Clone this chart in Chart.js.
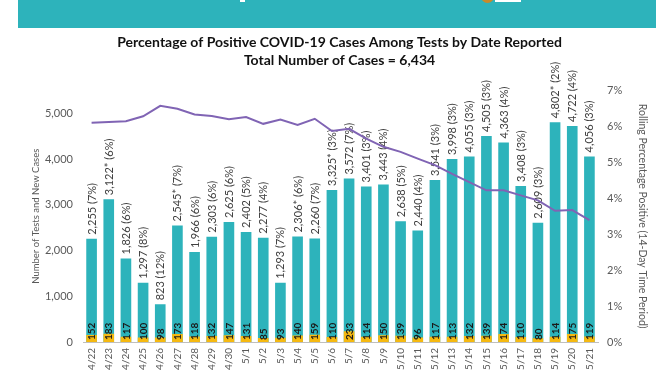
<!DOCTYPE html>
<html>
<head>
<meta charset="utf-8">
<script src="https://cdn.jsdelivr.net/npm/chart.js@4.4.1/dist/chart.umd.min.js"></script>
<style>
    html, body { margin: 0; padding: 0; background: #ffffff; }
    #wrap { position: relative; width: 672px; height: 372px; overflow: hidden; }
    #band { position: absolute; left: 18px; top: 0; width: 638px; height: 28px; background: #2db3bb; }
    #seal { position: absolute; left: 463px; top: -10px; width: 13px; height: 13px; border-radius: 50%; background: #c98a2a; }
    #logo { position: absolute; left: 495px; top: 0; width: 26px; height: 2px; background: #ffffff; }
    #mark { position: absolute; left: 240px; top: 0; width: 5px; height: 2px; background: #ffffff; }
    canvas { position: absolute; left: 0; top: 0; }
</style>
</head>
<body>
<div id="wrap">
    <div id="band"><div id="seal"></div></div>
    <div id="logo"></div>
    <div id="mark"></div>
    <canvas id="positiveChart" width="672" height="372"></canvas>
</div>
<script>
// dates reported
const dates = ['4/22', '4/23', '4/24', '4/25', '4/26', '4/27', '4/28', '4/29', '4/30', '5/1',
    '5/2', '5/3', '5/4', '5/5', '5/6', '5/7', '5/8', '5/9', '5/10', '5/11',
    '5/12', '5/13', '5/14', '5/15', '5/16', '5/17', '5/18', '5/19', '5/20', '5/21'];

// number of tests per day
const tests = [2255, 3122, 1826, 1297, 823, 2545, 1966, 2303, 2625, 2402,
    2277, 1293, 2306, 2260, 3325, 3572, 3401, 3443, 2638, 2440,
    3541, 3998, 4055, 4505, 4363, 3408, 2609, 4802, 4722, 4056];

// daily percent positive shown next to the test count
const dailyPct = [7, 6, 6, 8, 12, 7, 6, 6, 6, 5,
    4, 7, 6, 7, 3, 7, 3, 4, 5, 4,
    3, 3, 3, 3, 4, 3, 3, 2, 4, 3];

// days marked with an asterisk
const starred = ['4/23', '4/27', '5/4', '5/6', '5/19'];

// new cases per day
const newCases = [152, 183, 117, 100, 98, 173, 118, 132, 147, 131,
    85, 93, 140, 159, 110, 233, 114, 150, 139, 96,
    117, 113, 132, 139, 174, 110, 80, 114, 175, 119];

// rolling percentage positive, 14-day period
const rollingPct = [6.10, 6.12, 6.14, 6.28, 6.57, 6.49, 6.33, 6.29, 6.20, 6.26,
    6.07, 6.19, 6.04, 6.21, 5.87, 5.93, 5.66, 5.43, 5.29, 5.10,
    4.92, 4.68, 4.45, 4.22, 4.22, 4.08, 3.94, 3.65, 3.67, 3.39];

const leftTicks = [0, 1000, 2000, 3000, 4000, 5000];

const fontFamily = 'Lato, "Open Sans", sans-serif';

function testLabel(i) {
    const star = starred.includes(dates[i]) ? '*' : '';
    return tests[i].toLocaleString('en-US') + star + ' (' + dailyPct[i] + '%)';
}

// draws the rotated labels on the bars
const barLabels = {
    id: 'barLabels',
    afterDatasetDraw(chart, args) {
        const ctx = chart.ctx;
        const meta = args.meta;
        if (meta.type !== 'bar') return;
        const base = chart.scales.y.getPixelForValue(0);
        ctx.save();
        ctx.textBaseline = 'middle';
        ctx.textAlign = 'left';
        meta.data.forEach((bar, i) => {
            ctx.save();
            if (args.index === 0) {
                ctx.translate(bar.x + 0.5, bar.y - 4);
                ctx.rotate(-Math.PI / 2);
                ctx.font = '11px ' + fontFamily;
                ctx.fillStyle = '#404040';
                ctx.fillText(testLabel(i), 0, 0);
            } else {
                ctx.translate(bar.x + 0.5, base - 2);
                ctx.rotate(-Math.PI / 2);
                ctx.font = 'bold 10px ' + fontFamily;
                ctx.fillStyle = '#1a1a1a';
                ctx.fillText(String(newCases[i]), 0, 0);
            }
            ctx.restore();
        });
        ctx.restore();
    }
};

const ctx = document.getElementById('positiveChart').getContext('2d');
const positiveChart = new Chart(ctx, {
    type: 'bar',
    data: {
        labels: dates,
        datasets: [
            {
                label: 'Tests',
                data: tests,
                backgroundColor: '#2db3bb',
                grouped: false,
                order: 2,
                yAxisID: 'y',
                barPercentage: 0.62,
                categoryPercentage: 1,
            },
            {
                label: 'New Cases',
                data: newCases,
                backgroundColor: '#f6b910',
                grouped: false,
                order: 1,
                yAxisID: 'y',
                barPercentage: 0.62,
                categoryPercentage: 1,
            },
            {
                type: 'line',
                label: 'Rolling Percentage Positive',
                data: rollingPct,
                borderColor: '#8064b4',
                borderWidth: 2,
                pointRadius: 0,
                tension: 0,
                order: 0,
                yAxisID: 'y1',
            }
        ]
    },
    options: {
        responsive: false,
        animation: false,
        layout: { padding: { left: 30, right: 23, top: 0, bottom: 0 } },
        plugins: {
            legend: { display: false },
            tooltip: { enabled: false },
            title: {
                display: true,
                text: ['Percentage of Positive COVID-19 Cases Among Tests by Date Reported',
                    'Total Number of Cases = 6,434'],
                color: '#111111',
                font: { family: fontFamily, size: 14, weight: 'bold', lineHeight: 1.3 },
                padding: { top: 33, bottom: 21 },
            },
        },
        scales: {
            x: {
                grid: { display: false, drawTicks: false },
                border: { display: true, color: '#bfbfbf' },
                ticks: {
                    color: '#595959',
                    font: { family: fontFamily, size: 10 },
                    minRotation: 90,
                    maxRotation: 90,
                    padding: 6,
                    autoSkip: false,
                },
                afterFit(scale) { scale.height = 30; },
            },
            y: {
                position: 'left',
                min: 0,
                max: 5500,
                grid: { display: false, drawTicks: false },
                border: { display: false },
                afterBuildTicks(scale) {
                    scale.ticks = leftTicks.map(v => ({ value: v }));
                },
                ticks: {
                    color: '#595959',
                    font: { family: fontFamily, size: 11 },
                    padding: 10,
                    callback: v => v.toLocaleString('en-US'),
                },
                title: {
                    display: true,
                    text: 'Number of Tests and New Cases',
                    color: '#595959',
                    font: { family: fontFamily, size: 9.5 },
                    padding: { top: 0, bottom: 0 },
                },
                afterFit(scale) { scale.width = 53; },
            },
            y1: {
                position: 'right',
                min: 0,
                max: 7,
                grid: { display: false, drawTicks: false },
                border: { display: false },
                ticks: {
                    stepSize: 1,
                    color: '#595959',
                    font: { family: fontFamily, size: 11 },
                    padding: 9,
                    callback: v => v + '%',
                },
                title: {
                    display: true,
                    text: 'Rolling Percentage Positive (14-Day Time Period)',
                    color: '#595959',
                    font: { family: fontFamily, size: 10.5 },
                    padding: { top: 0, bottom: 0 },
                },
                afterFit(scale) { scale.width = 51; },
            },
        },
    },
    plugins: [barLabels],
});
</script>
</body>
</html>
